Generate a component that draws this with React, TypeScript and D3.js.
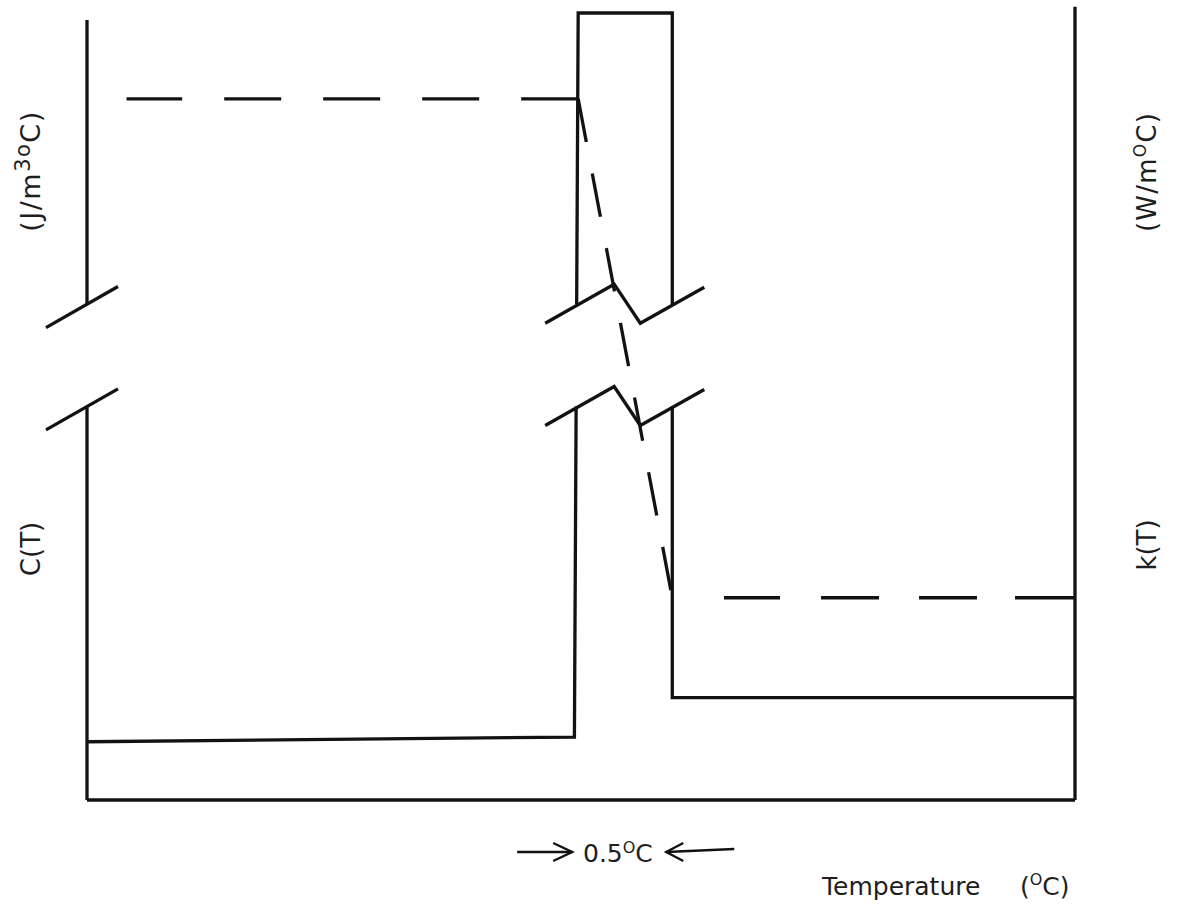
import React from "react";
import * as d3 from "d3";

// Temperature relative to the start of the phase change (°C)
const cTemps = [-2.61, -0.02, 0, 0.5, 0.5, 2.64];
// Volumetric heat capacity C(T), schematic units
const cValues = [7.4, 8.0, 100, 100, 13.0, 13.0];
// Thermal conductivity k(T), schematic units
const kTemps = [-2.4, 0, 0.5, 2.64];
const kValues = [89.1, 89.1, 25.7, 25.7];
// Axis break (value range that is cut out)
const breakRange = [50, 63];
const tempDomain = [-2.61, 2.64];
const valueDomain = [0, 100];
const leftAxisTop = 99.1;
const rightAxisTop = 100.8;

const W = 1178;
const H = 906;
const FONT = "'DejaVu Sans', Verdana, sans-serif";
const INK = "#121212";

export default function App() {
  const x = d3.scaleLinear().domain(tempDomain).range([87, 1075]);
  const y = d3.scaleLinear().domain(valueDomain).range([800, 13]);

  const line = d3
    .line<[number, number]>()
    .x((d) => x(d[0]))
    .y((d) => y(d[1]));

  const cPts: [number, number][] = cTemps.map((t, i) => [t, cValues[i]]);
  const kPts: [number, number][] = kTemps.map((t, i) => [t, kValues[i]]);

  const yLo = y(breakRange[0]);
  const yHi = y(breakRange[1]);
  const xL = x(tempDomain[0]);
  const xR = x(tempDomain[1]);
  const x0 = x(0);
  const x1 = x(0.5);

  // slash across the left axis at a break
  const slash = (cx: number, cy: number) =>
    `M${cx - 41},${cy + 0.57 * 41} L${cx + 31},${cy - 0.57 * 31}`;
  // zig-zag break across the two edges of the peak
  const zig = (cy: number) =>
    `M${x0 - 33},${cy + 19} L${x0 + 36},${cy - 20} L${x1 - 32},${cy + 19} L${x1 + 32},${cy - 17}`;

  // dashed k(T) segments, each drawn from its corner outward
  const kLeft = line([kPts[1], kPts[0]]) as string;
  const kDiag = line([kPts[1], kPts[2]]) as string;
  const kRight = line([kPts[3], kPts[2]]) as string;

  const stroke = { stroke: INK, strokeWidth: 3.3, fill: "none" } as const;

  return (
    <svg
      width={W}
      height={H}
      style={{ position: "absolute", left: 0, top: 0, background: "#fff" }}
    >
      <defs>
        <clipPath id="cut-band">
          <rect x={0} y={0} width={W} height={yHi} />
          <rect x={0} y={yLo} width={W} height={H - yLo} />
        </clipPath>
      </defs>

      {/* frame */}
      <path d={`M${xL},${y(0)} L${xR},${y(0)}`} {...stroke} />
      <path d={`M${xL},${y(0)} L${xL},${yLo}`} {...stroke} />
      <path d={`M${xL},${yHi} L${xL},${y(leftAxisTop)}`} {...stroke} />
      <path d={`M${xR},${y(0)} L${xR},${y(rightAxisTop)}`} {...stroke} />
      <path d={slash(xL, yHi)} {...stroke} />
      <path d={slash(xL, yLo)} {...stroke} />

      {/* C(T) */}
      <path
        d={line(cPts) as string}
        {...stroke}
        strokeLinejoin="miter"
        clipPath="url(#cut-band)"
      />
      <path d={zig(yHi)} {...stroke} strokeLinejoin="miter" />
      <path d={zig(yLo)} {...stroke} strokeLinejoin="miter" />

      {/* k(T) */}
      <path d={kLeft} {...stroke} strokeDasharray="57 42" />
      <path d={kDiag} {...stroke} strokeDasharray="44 32" />
      <path
        d={kRight}
        {...stroke}
        strokeDasharray="60 38 58 40 58 41 56 400"
      />

      {/* axis titles */}
      <g fill="#1e1e1e" fontFamily={FONT}>
        <text
          transform="translate(40,171) rotate(-90)"
          textAnchor="middle"
          fontSize={27}
          letterSpacing={1.5}
        >
          (J/m
          <tspan fontSize={21} dy={-10}>3o</tspan>
          <tspan dy={10}>C)</tspan>
        </text>
        <text transform="translate(40,549) rotate(-90)" textAnchor="middle" fontSize={26}>
          C(T)
        </text>
        <text
          transform="translate(1156,172) rotate(-90)"
          textAnchor="middle"
          fontSize={26}
          letterSpacing={1.2}
        >
          (W/m
          <tspan fontSize={17} dy={-10}>O</tspan>
          <tspan dy={10}>C)</tspan>
        </text>
        <text transform="translate(1156,545) rotate(-90)" textAnchor="middle" fontSize={26}>
          k(T)
        </text>

        <text x={583} y={862} fontSize={25}>
          0.5
          <tspan fontSize={16} dy={-9}>O</tspan>
          <tspan dy={9}>C</tspan>
        </text>
        <text x={822} y={895} fontSize={25}>
          Temperature
        </text>
        <text x={1020} y={895} fontSize={25}>
          (<tspan fontSize={16} dy={-10}>O</tspan>
          <tspan dy={10}>C)</tspan>
        </text>
      </g>

      {/* width markers for the 0.5 °C interval */}
      <g stroke={INK} strokeWidth={2.4} fill="none">
        <path d={`M${x0 - 61},852 L${x0 - 6},852`} />
        <path d={`M${x0 - 25},843 L${x0 - 6},852 L${x0 - 25},861`} />
        <path d={`M${x1 - 6},852 L${x1 + 62},849`} />
        <path d={`M${x1 + 11},843 L${x1 - 6},852 L${x1 + 11},861`} />
      </g>
    </svg>
  );
}
